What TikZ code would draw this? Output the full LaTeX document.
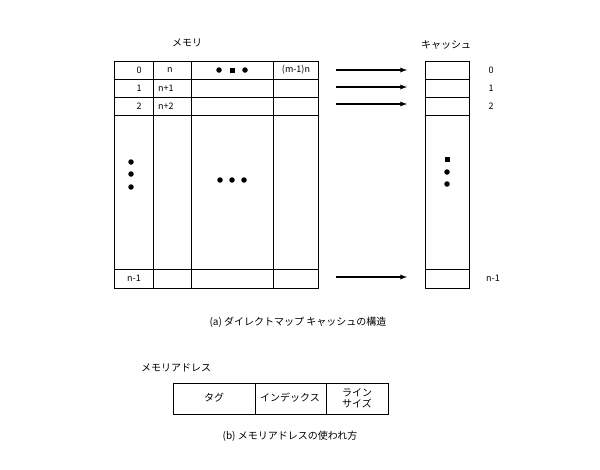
\documentclass[tikz,border=0pt]{standalone}
\usepackage{fontspec}
\setmainfont{Noto Sans CJK JP}
\usetikzlibrary{positioning}

\tikzset{
  cell/.style={font=\fontsize{9}{10}\selectfont, inner sep=0pt},
  label/.style={font=\fontsize{10}{11}\selectfont, inner sep=0pt},
  dot/.style={circle, fill, inner sep=0pt, minimum size=5.5pt},
  sqdot/.style={fill, inner sep=0pt, minimum size=5pt},
  maparrow/.style={-latex, line width=1.3pt}
}

\begin{document}
\begin{tikzpicture}[x=1pt, y=-1pt]
\useasboundingbox (0,0) rectangle (600,469);

% memory
\node[label] (memtitle) at (187,43) {メモリ};
\draw (114,61) rectangle (318,288);
\foreach \y in {79,97,115,269} \draw (114,\y) -- (318,\y);
\foreach \x in {153,191,273} \draw (\x,61) -- (\x,288);
\node[cell] (m0) at (139,70) {0};
\node[cell] (m1) at (139,88) {1};
\node[cell] (m2) at (139,106) {2};
\node[cell, anchor=west] (mn1) at (127,278) {n-1};
\node[cell, anchor=west] (mn) at (167,70) {n};
\node[cell, anchor=west] (mnp1) at (158,88) {n+1};
\node[cell, anchor=west] (mnp2) at (158,106) {n+2};
\node[cell] (mlast) at (296,70) {(m-1)n};
\node[dot] (td1) at (219,70) {};
\node[sqdot] (td2) at (232,70) {};
\node[dot] (td3) at (245,70) {};
\foreach \y [count=\i] in {162,174,187} \node[dot] (vd\i) at (131,\y) {};
\foreach \x [count=\i] in {220,232,244} \node[dot] (cd\i) at (\x,180) {};

% cache
\node[label] (cachetitle) at (446,45) {キャッシュ};
\draw (425,61) rectangle (469,288);
\foreach \y in {79,97,115,269} \draw (425,\y) -- (469,\y);
\node[cell] (c0) at (491,70) {0};
\node[cell] (c1) at (491,88) {1};
\node[cell] (c2) at (491,106) {2};
\node[cell] (cn1) at (493,278) {n-1};
\node[sqdot] (kd1) at (447,159) {};
\node[dot] (kd2) at (447,172) {};
\node[dot] (kd3) at (447,184) {};

% arrows
\foreach \y [count=\i] in {70,87,104,277} {
  \coordinate (as\i) at (336,\y);
  \coordinate (ae\i) at (407,\y);
  \draw[maparrow] (as\i) -- (ae\i);
}

\node[label] (capa) at (298,322) {(a)\ ダイレクトマップ キャッシュの構造};

% address
\node[label, anchor=west] (addrtitle) at (141,368) {メモリアドレス};
\draw (173,383) rectangle (388,414);
\draw (255,383) -- (255,414);
\draw (326,383) -- (326,414);
\node[label] (tag) at (214,398) {タグ};
\node[label] (idx) at (290,398) {インデックス};
\node[label, align=center] (line) at (357,398) {ライン\\サイズ};

\node[label] (capb) at (290,436) {(b)\ メモリアドレスの使われ方};
\end{tikzpicture}
\end{document}
